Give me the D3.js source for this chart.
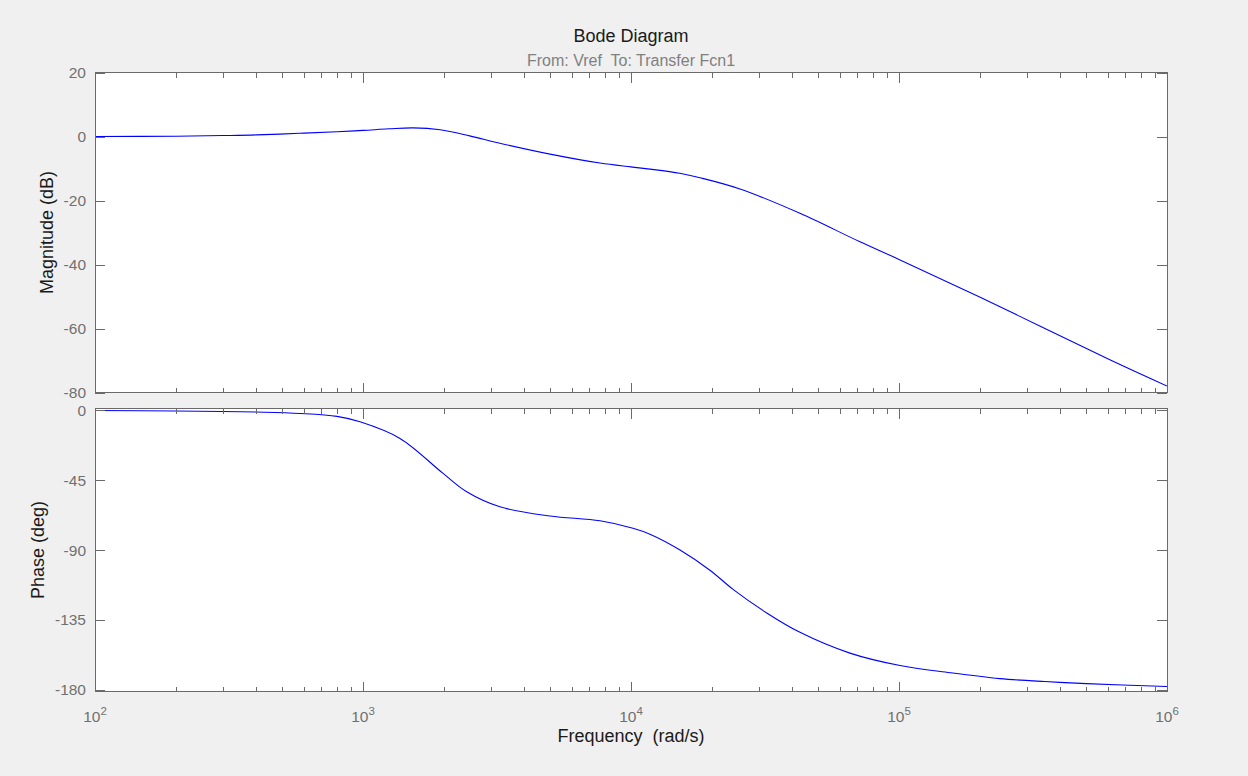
<!DOCTYPE html>
<html>
<head>
<meta charset="utf-8">
<script src="https://cdn.jsdelivr.net/npm/d3@7"></script>
<style>
  body { margin: 0; background: #f0f0f0; }
  text { font-family: "Liberation Sans", Arial, sans-serif; }
</style>
</head>
<body>
<div id="chart"></div>
<script>
  // values
  var magFreq = [100, 200, 300, 400, 580, 800, 1000, 1250, 1540, 1940, 2500, 3240, 4990, 7660, 10000, 11800, 15200, 18100, 25500, 42700, 71500, 100000, 210000, 612000, 1000000],
      magDb = [0.0, 0.1, 0.3, 0.5, 1.0, 1.5, 1.9, 2.4, 2.7, 2.1, 0.2, -2.1, -5.5, -8.3, -9.5, -10.2, -11.5, -12.9, -16.4, -24.0, -32.9, -38.4, -51.0, -69.8, -78.0],
      phaseFreq = [100, 200, 300, 400, 582, 800, 975, 1374, 1990, 2438, 3243, 4989, 7660, 10170, 11770, 15240, 19700, 24100, 32100, 42700, 65600, 100900, 155000, 238000, 350000, 500000, 1000000],
      phaseDeg = [-0.2, -0.5, -0.8, -1.2, -2.1, -4.0, -7.5, -18.2, -40.7, -52.5, -62.2, -68.1, -71.2, -76.0, -79.8, -90.0, -103.0, -115.5, -130.5, -143.0, -156.4, -164.4, -169.0, -172.8, -174.7, -176.0, -177.9],
      decades = [2, 3, 4, 5, 6],
      magTicks = [20, 0, -20, -40, -60, -80],
      phaseTicks = [0, -45, -90, -135, -180],
      title = "Bode Diagram",
      subtitle = "From: Vref  To: Transfer Fcn1",
      xLabel = "Frequency  (rad/s)",
      magLabel = "Magnitude (dB)",
      phaseLabel = "Phase (deg)";

  var width = 1248, height = 776,
      left = 95, right = 1167,
      magTop = 72.5, magBottom = 392.5,
      phTop = 408.5, phBottom = 691.5,
      majorLen = 10, minorLen = 5,
      axisColor = "#6a6a6a", labelColor = "#707070";

  const svg = d3.select("#chart").append("svg")
      .attr("width", width)
      .attr("height", height);

  svg.append("rect")
      .attr("width", width)
      .attr("height", height)
      .attr("fill", "#f0f0f0");

  var x = d3.scaleLog().domain([1e2, 1e6]).range([left, right]);
  var yMag = d3.scaleLinear().domain([20, -80]).range([magTop, magBottom]);
  var yPh = d3.scaleLinear().domain([1.09, -181.09]).range([phTop, phBottom]);

  var majors = decades.map(d => Math.pow(10, d));
  var minors = [];
  decades.slice(0, -1).forEach(function(d) {
    for (var k = 2; k <= 9; k++) minors.push(k * Math.pow(10, d));
  });

  function drawAxes(name, y, yTicks, top, bottom, data, withXLabels) {
    var g = svg.append("g").attr("class", name);

    g.append("rect")
      .attr("x", left).attr("y", top)
      .attr("width", right - left).attr("height", bottom - top)
      .attr("fill", "#fff");

    svg.append("clipPath").attr("id", "clip-" + name)
      .append("rect")
      .attr("x", left).attr("y", top)
      .attr("width", right - left).attr("height", bottom - top);

    var line = d3.line()
      .x(d => x(d[0]))
      .y(d => y(d[1]))
      .curve(d3.curveCatmullRom.alpha(0.5));

    g.append("path")
      .datum(data)
      .attr("clip-path", "url(#clip-" + name + ")")
      .attr("d", line)
      .attr("fill", "none")
      .attr("stroke", "#0000ff")
      .attr("stroke-width", 1.1);

    var ticks = g.append("g")
      .attr("stroke", axisColor)
      .attr("shape-rendering", "crispEdges");

    var xt = majors.map(v => [v, majorLen]).concat(minors.map(v => [v, minorLen]));
    xt.forEach(function(t) {
      var px = Math.round(x(t[0])) + 0.5;
      ticks.append("line").attr("x1", px).attr("x2", px).attr("y1", top).attr("y2", top + t[1]);
      ticks.append("line").attr("x1", px).attr("x2", px).attr("y1", bottom).attr("y2", bottom - t[1]);
    });
    yTicks.forEach(function(v) {
      var py = Math.round(y(v)) + 0.5;
      ticks.append("line").attr("x1", left).attr("x2", left + majorLen).attr("y1", py).attr("y2", py);
      ticks.append("line").attr("x1", right).attr("x2", right - majorLen).attr("y1", py).attr("y2", py);
    });

    g.append("rect")
      .attr("x", left).attr("y", top)
      .attr("width", right - left).attr("height", bottom - top)
      .attr("fill", "none")
      .attr("stroke", axisColor)
      .attr("shape-rendering", "crispEdges");

    g.selectAll(".ylab")
      .data(yTicks)
      .enter().append("text")
        .attr("class", "ylab")
        .attr("x", left - 9)
        .attr("y", d => y(d))
        .attr("dy", "0.36em")
        .style("text-anchor", "end")
        .style("font-size", "15.5px")
        .attr("fill", labelColor)
        .text(d => d);

    if (withXLabels) {
      var xl = g.selectAll(".xlab")
        .data(decades)
        .enter().append("text")
          .attr("class", "xlab")
          .attr("x", d => x(Math.pow(10, d)))
          .attr("y", bottom + 30)
          .style("text-anchor", "middle")
          .style("font-size", "15.5px")
          .attr("fill", labelColor);
      xl.append("tspan").text("10");
      xl.append("tspan")
        .attr("dy", -7)
        .style("font-size", "11.5px")
        .text(d => d);
    }
  }

  drawAxes("mag", yMag, magTicks, magTop, magBottom, d3.zip(magFreq, magDb), false);
  drawAxes("phase", yPh, phaseTicks, phTop, phBottom, d3.zip(phaseFreq, phaseDeg), true);

  var cx = (left + right) / 2;

  svg.append("text")
    .attr("x", cx).attr("y", 42)
    .style("text-anchor", "middle")
    .style("font-size", "18px")
    .attr("fill", "#1a1a1a")
    .text(title);

  svg.append("text")
    .attr("x", cx).attr("y", 65.5)
    .style("text-anchor", "middle")
    .style("font-size", "16px")
    .style("white-space", "pre")
    .attr("fill", "#808080")
    .text(subtitle);

  svg.append("text")
    .attr("x", cx).attr("y", 741.5)
    .style("text-anchor", "middle")
    .style("font-size", "18px")
    .style("white-space", "pre")
    .attr("fill", "#1a1a1a")
    .text(xLabel);

  svg.append("text")
    .attr("transform", "translate(53," + (magTop + magBottom) / 2 + ") rotate(-90)")
    .style("text-anchor", "middle")
    .style("font-size", "18px")
    .attr("fill", "#1a1a1a")
    .text(magLabel);

  svg.append("text")
    .attr("transform", "translate(44," + (phTop + phBottom) / 2 + ") rotate(-90)")
    .style("text-anchor", "middle")
    .style("font-size", "18px")
    .attr("fill", "#1a1a1a")
    .text(phaseLabel);
</script>
</body>
</html>
